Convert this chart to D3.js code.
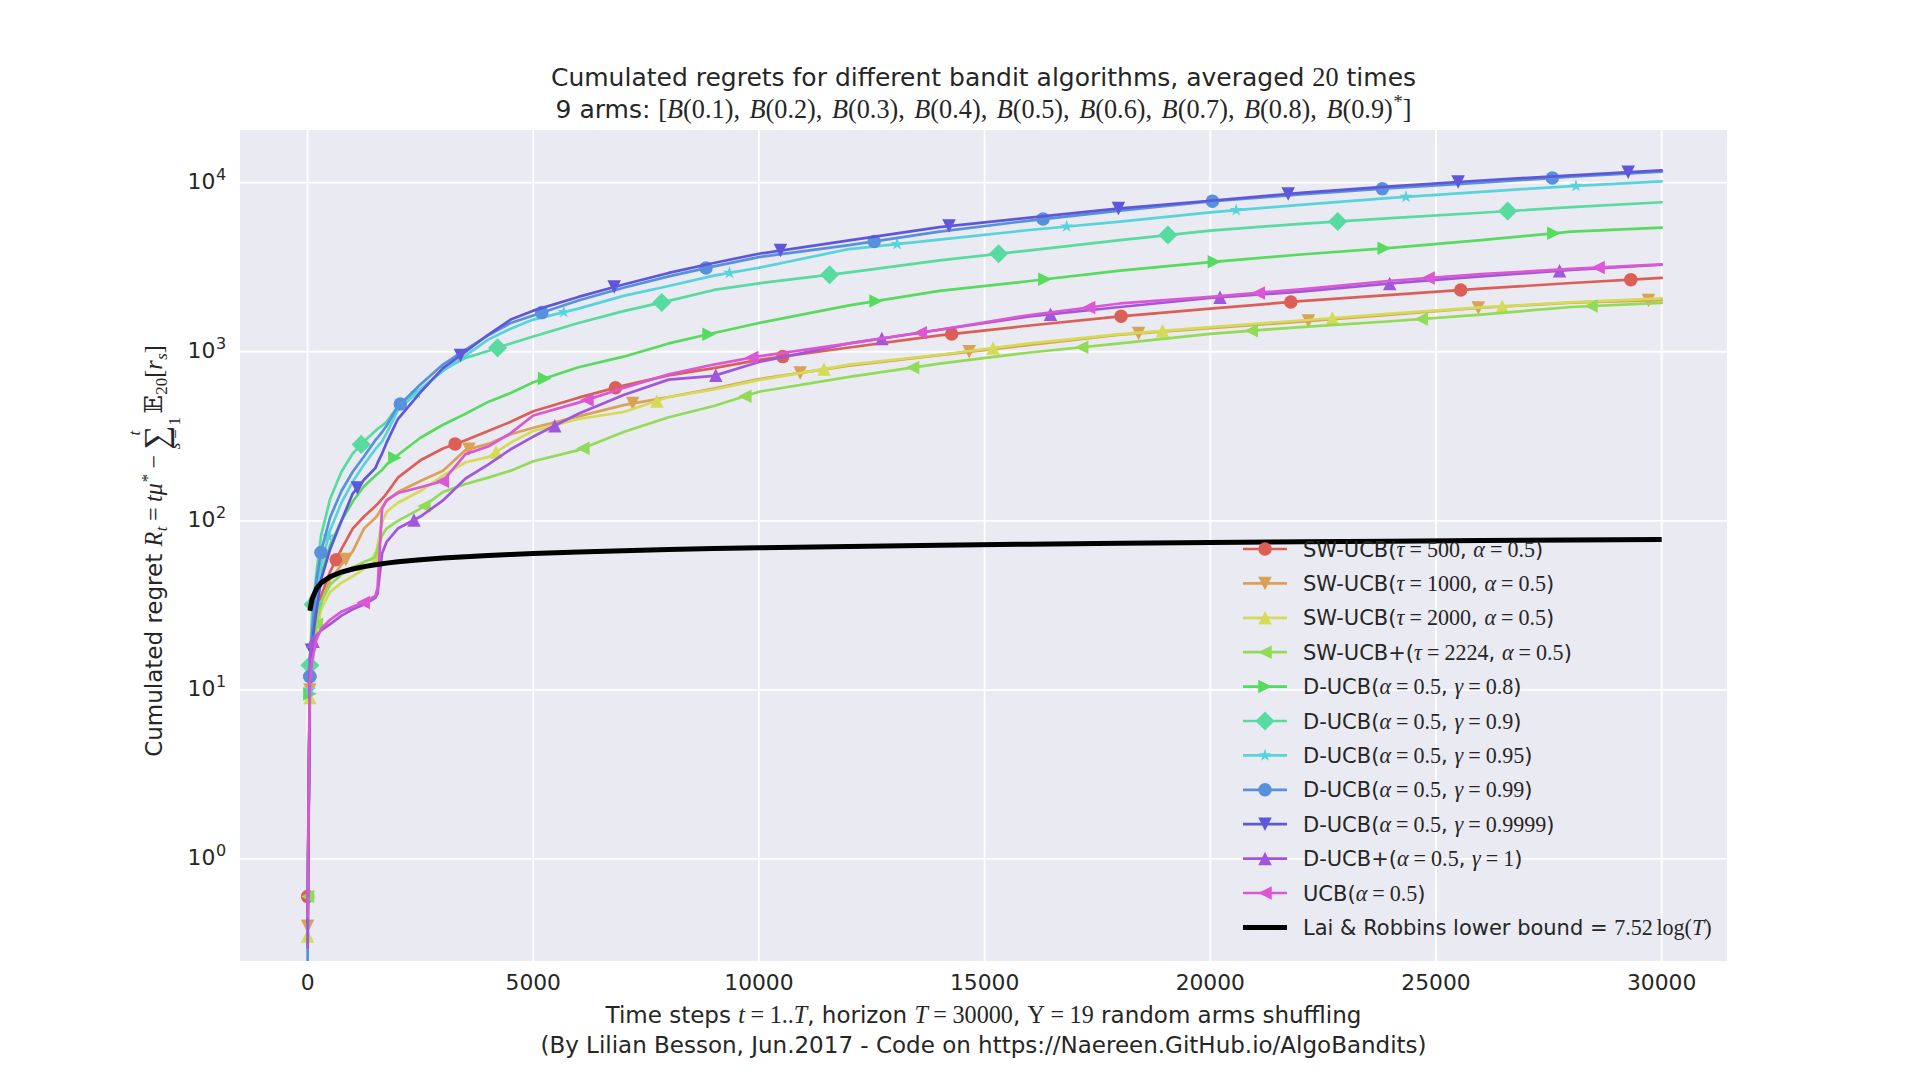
<!DOCTYPE html>
<html>
<head>
<meta charset="utf-8">
<script src="https://cdn.jsdelivr.net/npm/d3@7"></script>
<style>
  body { margin: 0; background: #fff; }
  svg { display: block; }
  text { fill: #262626; white-space: pre; }
</style>
</head>
<body>
<svg id="chart" width="1919" height="1080"></svg>
<script>
// time steps where the averaged regrets are read
const steps = [0, 50, 100, 200, 300, 500, 750, 1000, 1250, 1500,
  1550, 1650, 1750, 2000, 2500, 3000, 3500, 4000, 4500, 5000,
  6000, 7000, 8000, 9000, 10000, 12000, 14000, 16000, 18000, 20000,
  22000, 24000, 26000, 28000, 30000]

// cumulated regret of each policy at those steps
const swUcb500 = [0.6, 12, 17, 27, 36, 50, 68, 90, 106, 122,
  126, 135, 145, 180, 228, 268, 300, 340, 385, 445,
  535, 630, 725, 800, 895, 1060, 1250, 1430, 1620, 1800,
  1990, 2170, 2360, 2550, 2735]
const swUcb1000 = [0.4, 10, 14, 23, 33, 45, 55, 66, 90, 104,
  108, 120, 132, 148, 172, 198, 262, 285, 325, 355,
  415, 483, 540, 605, 690, 828, 955, 1097, 1260, 1380,
  1507, 1660, 1820, 1950, 2020]
const swUcb2000 = [0.35, 9, 14, 22, 30, 38, 43, 47, 52, 57,
  72, 98, 113, 128, 150, 185, 222, 238, 290, 340,
  400, 440, 540, 598, 680, 840, 960, 1120, 1270, 1400,
  1530, 1680, 1830, 1960, 2070]
const swUcbPlus = [0.6, 10, 15, 25, 33, 42, 48, 53, 57, 61,
  68, 82, 90, 100, 118, 148, 165, 180, 198, 225,
  262, 335, 410, 478, 580, 710, 850, 990, 1120, 1275,
  1400, 1515, 1660, 1840, 1945]
const dUcb08 = [0.5, 9.5, 17, 33, 48, 72, 100, 130, 160, 185,
  190, 200, 215, 245, 310, 370, 430, 505, 570, 660,
  810, 935, 1120, 1290, 1480, 1880, 2290, 2620, 3020, 3390,
  3760, 4120, 4570, 5130, 5420]
const dUcb09 = [0.31, 14, 28, 50, 82, 135, 195, 250, 295, 340,
  350, 365, 385, 475, 600, 780, 920, 1010, 1120, 1230,
  1480, 1740, 2000, 2320, 2540, 2950, 3470, 3980, 4570, 5210,
  5710, 6170, 6640, 7160, 7660]
const dUcb095 = [0.5, 10, 18, 36, 55, 88, 128, 170, 215, 265,
  275, 295, 330, 450, 600, 770, 950, 1180, 1370, 1550,
  1800, 2140, 2450, 2820, 3140, 4050, 4600, 5250, 5890, 6680,
  7400, 8130, 8830, 9550, 10190]
const dUcb099 = [0.25, 12, 22, 45, 66, 105, 150, 195, 240, 300,
  310, 335, 365, 475, 640, 840, 1030, 1250, 1480, 1640,
  2010, 2390, 2790, 3200, 3630, 4270, 5130, 5970, 6840, 7760,
  8510, 9290, 10000, 10840, 11600]
const dUcb09999 = [0.42, 13, 19, 30, 45, 68, 100, 145, 175, 205,
  220, 250, 290, 400, 575, 800, 1000, 1260, 1550, 1750,
  2110, 2500, 2925, 3350, 3800, 4560, 5460, 6210, 7050, 7820,
  8710, 9500, 10300, 11040, 11830]
const dUcbPlus = [0.3, 16, 19, 21, 22.5, 24.5, 27.5, 30, 32, 35,
  37, 64, 75, 90, 106, 132, 178, 215, 265, 315,
  430, 555, 684, 720, 870, 1120, 1350, 1620, 1840, 2080,
  2265, 2540, 2790, 3050, 3270]
const ucb = [0.45, 11, 15, 20, 23, 26, 29, 31, 33, 36,
  40, 118, 132, 146, 158, 172, 248, 275, 330, 420,
  500, 610, 735, 840, 940, 1120, 1350, 1650, 1930, 2110,
  2340, 2630, 2880, 3090, 3290]
// Lai & Robbins lower bound = 7.52 log(t)
const laiRobbins = [null, 29.4, 34.6, 39.8, 42.9, 46.7, 49.8, 51.9, 53.6, 55.0,
  55.2, 55.7, 56.2, 57.2, 58.8, 60.2, 61.4, 62.4, 63.3, 64.0,
  65.4, 66.6, 67.6, 68.5, 69.3, 70.6, 71.8, 72.8, 73.7, 74.5,
  75.2, 75.8, 76.4, 77.0, 77.5]

const policies = [swUcb500, swUcb1000, swUcb2000, swUcbPlus, dUcb08, dUcb09,
  dUcb095, dUcb099, dUcb09999, dUcbPlus, ucb]
const labels = [
  'SW-UCB($τ=500$, $α=0.5$)',
  'SW-UCB($τ=1000$, $α=0.5$)',
  'SW-UCB($τ=2000$, $α=0.5$)',
  'SW-UCB+($τ=2224$, $α=0.5$)',
  'D-UCB($α=0.5$, $γ=0.8$)',
  'D-UCB($α=0.5$, $γ=0.9$)',
  'D-UCB($α=0.5$, $γ=0.95$)',
  'D-UCB($α=0.5$, $γ=0.99$)',
  'D-UCB($α=0.5$, $γ=0.9999$)',
  'D-UCB+($α=0.5$, $γ=1$)',
  'UCB($α=0.5$)'
]
const boundLabel = 'Lai & Robbins lower bound = $7.52\\log(T)$'
const markers = ['o', 'v', '^', '<', '>', 'D', '*', 'o', 'v', '^', '<']
const yTicks = [1, 10, 100, 1000, 10000]
const xTicks = [0, 5000, 10000, 15000, 20000, 25000, 30000]

//consts
const
  axLeft = 240, axRight = 1727, axTop = 130, axBottom = 961,
  sans = '"DejaVu Sans", sans-serif',
  serif = '"Liberation Serif", "DejaVu Serif", serif',
  tickSize = 21.8,
  titleSize = 25,
  labelSize = 23,
  legendSize = 21,
  ms = 13.5,
  lw = 2.7

const svg = d3.select('#chart')

const x = d3.scaleLinear().domain([-1497.5, 31447.5]).range([axLeft, axRight])
const y = d3.scaleLog().domain([0.2492, 20490]).range([axBottom, axTop])
// seaborn hls palette, one slot per plotted curve (the bound included)
const colors = d3.range(policies.length)
  .map(i => d3.hsl((0.01 + i / (policies.length + 1)) * 360, 0.65, 0.6).formatHex())

//--- small mathtext-like renderer
function parseMath(s) {
  let i = 0
  const atoms = []
  function group() {
    if (s[i] === '{') {
      let depth = 1, j = i + 1
      while (depth) { if (s[j] === '{') depth++; else if (s[j] === '}') depth--; j++ }
      const inner = s.slice(i + 1, j - 1)
      i = j
      return parseMath(inner)
    }
    const ch = String.fromCodePoint(s.codePointAt(i))
    i += ch.length
    return parseMath(ch)
  }
  while (i < s.length) {
    if (s.startsWith('\\log', i)) {
      i += 4
      atoms.push({kind: 'word', s: 'log'})
      continue
    }
    const ch = String.fromCodePoint(s.codePointAt(i))
    if (ch === '_' || ch === '^') {
      i++
      atoms.push({kind: ch === '_' ? 'sub' : 'sup', atoms: group()})
    } else if (ch === '∑') {
      i += ch.length
      const op = {kind: 'op', s: ch, sub: [], sup: []}
      while (s[i] === '_' || s[i] === '^') {
        const w = s[i]; i++
        op[w === '_' ? 'sub' : 'sup'] = group()
      }
      atoms.push(op)
    } else {
      i += ch.length
      if (ch !== ' ') atoms.push({kind: 'chr', s: ch})
    }
  }
  return atoms
}

function parseRich(str) {
  const out = []
  str.split('$').forEach((seg, i) => {
    if (!seg) return
    if (i % 2 === 0) out.push({kind: 'txt', s: seg})
    else out.push(...parseMath(seg))
  })
  return out
}

function put(g, s, px, base, size, family, style) {
  const t = g.append('text')
    .attr('x', px).attr('y', base)
    .attr('font-family', family)
    .attr('font-size', size)
    .attr('font-style', style)
    .text(s)
  return px + t.node().getComputedTextLength()
}

function layout(g, atoms, px, base, size) {
  atoms.forEach(a => {
    if (a.kind === 'txt') px = put(g, a.s, px, base, size, sans, 'normal')
    else if (a.kind === 'word') px = put(g, a.s, px + size * 0.17, base, size * 1.05, serif, 'normal')
    else if (a.kind === 'chr') {
      const rel = a.s === '=' || a.s === '-'
      const sp = rel ? size * 0.24 : 0
      const italic = /[A-Za-z\u03b1-\u03c9]/.test(a.s)
      px = put(g, a.s === '-' ? '−' : a.s, px + sp, base, size * 1.05, serif,
        italic ? 'italic' : 'normal') + sp
      if (a.s === ',') px += size * 0.38
    }
    else if (a.kind === 'sup') px = layout(g, a.atoms, px + size * 0.03, base - size * 0.4, size * 0.7)
    else if (a.kind === 'sub') px = layout(g, a.atoms, px + size * 0.02, base + size * 0.22, size * 0.7)
    else if (a.kind === 'op') {
      const start = px
      const w = put(g, a.s, px, base + size * 0.22, size * 1.45, serif, 'normal') - start
      const sg = g.append('g'), bg = g.append('g')
      const sw = layout(sg, a.sup, 0, base - size * 0.95, size * 0.7)
      const bw = layout(bg, a.sub, 0, base + size * 0.8, size * 0.7)
      const full = Math.max(w, sw, bw)
      sg.attr('transform', `translate(${start + (full - sw) / 2},0)`)
      bg.attr('transform', `translate(${start + (full - bw) / 2},0)`)
      px = start + full + size * 0.15
    }
  })
  return px
}

function rich(parent, str, size) {
  const g = parent.append('g')
  const w = layout(g, parseRich(str), 0, 0, size)
  return {g, w}
}

//--- marker shapes (matplotlib sizes)
function markerPath(m, s) {
  const h = s / 2
  switch (m) {
    case 'o': return d3.symbol(d3.symbolCircle, Math.PI * h * h)()
    case '^': return `M0,${-h}L${-h},${h}L${h},${h}Z`
    case 'v': return `M0,${h}L${-h},${-h}L${h},${-h}Z`
    case '<': return `M${-h},0L${h},${-h}L${h},${h}Z`
    case '>': return `M${h},0L${-h},${-h}L${-h},${h}Z`
    case 'D': { const d = s * 0.707; return `M0,${-d}L${d},0L0,${d}L${-d},0Z` }
    case '*': {
      let p = ''
      for (let k = 0; k < 10; k++) {
        const r = k % 2 ? h * 0.382 : h
        const a = -Math.PI / 2 + k * Math.PI / 5
        p += (k ? 'L' : 'M') + (r * Math.cos(a)).toFixed(2) + ',' + (r * Math.sin(a)).toFixed(2)
      }
      return p + 'Z'
    }
  }
}

// markevery=(i/50, 0.1): equal distances along the drawn line, in units of the axes diagonal
function markerPoints(pts, start, step) {
  const diag = Math.hypot(axRight - axLeft, axBottom - axTop)
  const cum = [0]
  for (let k = 1; k < pts.length; k++)
    cum.push(cum[k - 1] + Math.hypot(pts[k][0] - pts[k - 1][0], pts[k][1] - pts[k - 1][1]))
  const total = cum[cum.length - 1]
  const out = []
  for (let d = start * diag; d < total; d += step * diag) {
    let k = 1
    while (k < cum.length - 1 && cum[k] < d) k++
    if (k === 1) { out.push(d < cum[1] - d ? pts[0] : pts[1]); continue }
    const f = (d - cum[k - 1]) / (cum[k] - cum[k - 1])
    out.push([pts[k - 1][0] + f * (pts[k][0] - pts[k - 1][0]),
      pts[k - 1][1] + f * (pts[k][1] - pts[k - 1][1])])
  }
  return out
}

//--- axes background and grid
svg.append('defs').append('clipPath').attr('id', 'plot-clip')
  .append('rect').attr('x', axLeft).attr('y', axTop)
  .attr('width', axRight - axLeft).attr('height', axBottom - axTop)

svg.append('rect')
  .attr('x', axLeft).attr('y', axTop)
  .attr('width', axRight - axLeft).attr('height', axBottom - axTop)
  .attr('fill', '#eaeaf2')

const grid = svg.append('g').attr('stroke', '#fff').attr('stroke-width', 1.8)
grid.selectAll('.gx').data(xTicks).enter().append('line')
  .attr('x1', d => x(d)).attr('x2', d => x(d))
  .attr('y1', axTop).attr('y2', axBottom)
grid.selectAll('.gy').data(yTicks).enter().append('line')
  .attr('x1', axLeft).attr('x2', axRight)
  .attr('y1', d => y(d)).attr('y2', d => y(d))

//--- tick labels
svg.append('g').selectAll('text').data(xTicks).enter().append('text')
  .attr('x', d => x(d)).attr('y', 990)
  .attr('text-anchor', 'middle')
  .attr('font-family', sans).attr('font-size', tickSize)
  .text(d => d)

yTicks.forEach(v => {
  const e = Math.round(Math.log10(v))
  const {g, w} = rich(svg, '10$^{' + e + '}$', tickSize)
  g.selectAll('text').attr('font-family', sans).attr('font-style', 'normal')
  g.attr('transform', `translate(${224 - w},${y(v) + 6})`)
})

//--- curves
const plot = svg.append('g').attr('clip-path', 'url(#plot-clip)')
const line = d3.line()

policies.forEach((vals, i) => {
  const pts = steps.map((t, k) => [x(t), y(vals[k])])
  const g = plot.append('g')
  g.append('path')
    .attr('d', line(pts))
    .attr('fill', 'none')
    .attr('stroke', colors[i])
    .attr('stroke-width', lw)
    .attr('stroke-linejoin', 'round')
    .attr('stroke-linecap', 'round')
  g.selectAll('.mk').data(markerPoints(pts, i / 50, 0.1)).enter().append('path')
    .attr('d', markerPath(markers[i], ms))
    .attr('transform', d => `translate(${d})`)
    .attr('fill', colors[i])
})

plot.append('path')
  .attr('d', d3.line().defined(d => d[1] != null)
    .x(d => x(d[0])).y(d => y(d[1]))(steps.map((t, k) => [t, laiRobbins[k]])))
  .attr('fill', 'none')
  .attr('stroke', '#000')
  .attr('stroke-width', 5)

//--- legend (no frame)
const legend = svg.append('g')
const rowY = k => 549 + k * 34.4
labels.concat([boundLabel]).forEach((lab, k) => {
  const cy = rowY(k)
  const bound = k === labels.length
  legend.append('line')
    .attr('x1', 1243).attr('x2', 1287).attr('y1', cy).attr('y2', cy)
    .attr('stroke', bound ? '#000' : colors[k])
    .attr('stroke-width', bound ? 5 : lw)
  if (!bound)
    legend.append('path')
      .attr('d', markerPath(markers[k], ms))
      .attr('transform', `translate(1265,${cy})`)
      .attr('fill', colors[k])
  const {g} = rich(legend, lab, legendSize)
  g.attr('transform', `translate(1303,${cy + 7.5})`)
})

//--- titles
const t1 = rich(svg, 'Cumulated regrets for different bandit algorithms, averaged $20$ times', titleSize)
t1.g.attr('transform', `translate(${983.5 - t1.w / 2},86)`)
const t2 = rich(svg, '9 arms: $[B(0.1),B(0.2),B(0.3),B(0.4),B(0.5),B(0.6),B(0.7),B(0.8),B(0.9)^*]$', titleSize)
t2.g.attr('transform', `translate(${983.5 - t2.w / 2},118)`)

const xl1 = rich(svg, 'Time steps $t=1..T$, horizon $T=30000$, $Υ=19$ random arms shuffling', labelSize)
xl1.g.attr('transform', `translate(${983.5 - xl1.w / 2},1023)`)
const xl2 = rich(svg, '(By Lilian Besson, Jun.2017 - Code on https://Naereen.GitHub.io/AlgoBandits)', labelSize)
xl2.g.attr('transform', `translate(${983.5 - xl2.w / 2},1053)`)

const yl = rich(svg, 'Cumulated regret $R_t=tμ^*-∑_{s=1}^{t}𝔼_{20}[r_s]$', labelSize)
yl.g.attr('transform', `translate(162,551) rotate(-90) translate(${-yl.w / 2},0)`)
</script>
</body>
</html>
